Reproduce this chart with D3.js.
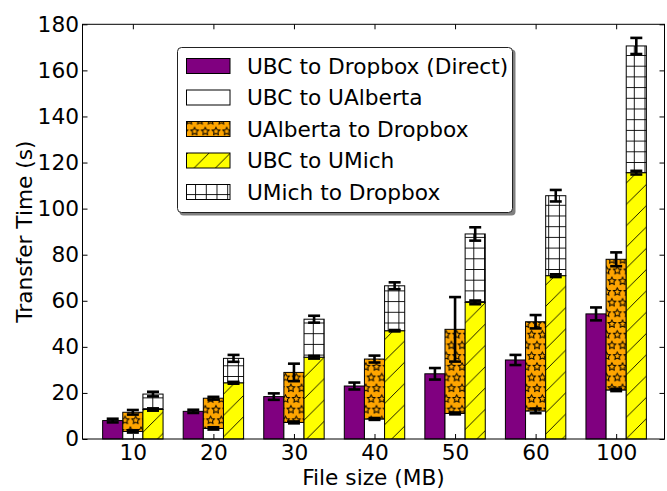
<!DOCTYPE html>
<html>
<head>
<meta charset="utf-8">
<script src="https://cdn.jsdelivr.net/npm/d3@7"></script>
<style>
  html, body { margin: 0; padding: 0; background: #fff; }
  svg { display: block; font-family: "DejaVu Sans", sans-serif; }
</style>
</head>
<body>
<svg id="chart" width="667" height="491"></svg>
<script>
// ---- data ----
const categories = ["10", "20", "30", "40", "50", "60", "100"];
const direct = [8.0, 12.0, 18.4, 23.0, 28.3, 34.3, 54.3];
const directErr = [0.8, 0.7, 1.4, 1.5, 2.5, 2.2, 2.8];
const ubcToUAlberta = [3.3, 4.6, 7.2, 8.7, 11.1, 12.2, 21.3];
const ubcToUAlbertaErr = [0.5, 0.5, 0.4, 0.4, 0.4, 1.0, 0.5];
const uAlbertaToDropbox = [8.3, 13.1, 21.7, 26.0, 36.5, 38.7, 56.7];
const uAlbertaToDropboxErr = [1.0, 0.6, 3.8, 1.5, 14.0, 2.9, 3.0];
const ubcToUMich = [12.8, 24.4, 35.5, 47.0, 59.3, 70.9, 115.6];
const ubcToUMichErr = [0.5, 0.4, 0.6, 0.3, 0.8, 0.6, 0.8];
const uMichToDropbox = [6.7, 10.6, 16.5, 19.5, 29.7, 34.7, 55.0];
const uMichToDropboxErr = [1.0, 1.5, 1.5, 1.5, 2.9, 2.5, 3.5];
const yTicks = [0, 20, 40, 60, 80, 100, 120, 140, 160, 180];
const legendLabels = ["UBC to Dropbox (Direct)", "UBC to UAlberta", "UAlberta to Dropbox", "UBC to UMich", "UMich to Dropbox"];

// ---- layout ----
const svg = d3.select("#chart");
const pLeft = 82.5, pRight = 664.5, pTop = 24.3, pBottom = 439;
const barW = 0.25;
const x = d3.scaleLinear().domain([-0.625, 6.6]).range([pLeft, pRight]);
const y = d3.scaleLinear().domain([0, 180]).range([pBottom, pTop]);
const FS = 21.7;

// ---- patterns ----
const defs = svg.append("defs");
const hd = 10.7;
const starPts = (() => {
  const r = 4.0, ri = 2.0, pts = [];
  for (let i = 0; i < 10; i++) {
    const a = -Math.PI / 2 + i * Math.PI / 5;
    const rr = i % 2 === 0 ? r : ri;
    pts.push([rr * Math.cos(a), rr * Math.sin(a)]);
  }
  return pts;
})();
const starPath = (cx, cy) => "M" + starPts.map(p => (cx + p[0]).toFixed(2) + "," + (cy + p[1]).toFixed(2)).join("L") + "Z";
const pStar = defs.append("pattern").attr("id", "stars").attr("patternUnits", "userSpaceOnUse")
  .attr("width", hd).attr("height", 2 * hd).attr("x", 2).attr("y", 3);
pStar.append("rect").attr("width", hd).attr("height", 2 * hd).attr("fill", "#FFA500");
pStar.append("path")
  .attr("d", [[0,0],[hd,0],[0,2*hd],[hd,2*hd],[hd/2,hd]].map(p => starPath(p[0], p[1])).join(""))
  .attr("fill", "none").attr("stroke", "#000").attr("stroke-width", 1);
const hs = 21.3;
const pDiag = defs.append("pattern").attr("id", "diag").attr("patternUnits", "userSpaceOnUse")
  .attr("width", hs).attr("height", hs).attr("x", 0).attr("y", 0);
pDiag.append("rect").attr("width", hs).attr("height", hs).attr("fill", "#FFFF00");
pDiag.append("path")
  .attr("d", `M0,${hs}L${hs},0M${-hs/4},${hs/4}L${hs/4},${-hs/4}M${3*hs/4},${5*hs/4}L${5*hs/4},${3*hs/4}`)
  .attr("stroke", "#000").attr("stroke-width", 0.9);
const pGrid = defs.append("pattern").attr("id", "grid").attr("patternUnits", "userSpaceOnUse")
  .attr("width", hd).attr("height", hd).attr("x", 2.5).attr("y", 1.5);
pGrid.append("rect").attr("width", hd).attr("height", hd).attr("fill", "#fff");
pGrid.append("path").attr("d", `M0,0.5H${hd}M0.5,0V${hd}`)
  .attr("stroke", "#000").attr("stroke-width", 0.9);

// ---- series definitions ----
const series = [
  { name: legendLabels[0], vals: direct, err: directErr, base: direct.map(() => 0), off: -1, fill: "#800080" },
  { name: legendLabels[1], vals: ubcToUAlberta, err: ubcToUAlbertaErr, base: ubcToUAlberta.map(() => 0), off: 0, fill: "#ffffff" },
  { name: legendLabels[2], vals: uAlbertaToDropbox, err: uAlbertaToDropboxErr, base: ubcToUAlberta, off: 0, fill: "url(#stars)" },
  { name: legendLabels[3], vals: ubcToUMich, err: ubcToUMichErr, base: ubcToUMich.map(() => 0), off: 1, fill: "url(#diag)" },
  { name: legendLabels[4], vals: uMichToDropbox, err: uMichToDropboxErr, base: ubcToUMich, off: 1, fill: "url(#grid)" }
];

const gBars = svg.append("g");
series.forEach(sr => {
  gBars.selectAll(null).data(sr.vals).enter().append("rect")
    .attr("x", (v, i) => x(i + sr.off * barW - barW / 2))
    .attr("width", x(barW) - x(0))
    .attr("y", (v, i) => y(sr.base[i] + v))
    .attr("height", (v, i) => y(sr.base[i]) - y(sr.base[i] + v))
    .attr("fill", sr.fill)
    .attr("stroke", "#000").attr("stroke-width", 1);
});

// ---- error bars ----
const gErr = svg.append("g").attr("stroke", "#000").attr("stroke-width", 2.6);
series.forEach(sr => {
  sr.vals.forEach((v, i) => {
    const cx = x(i + sr.off * barW);
    const tot = sr.base[i] + v;
    const e = sr.err[i];
    gErr.append("line").attr("x1", cx).attr("x2", cx).attr("y1", y(tot - e)).attr("y2", y(tot + e));
    [tot - e, tot + e].forEach(t => {
      gErr.append("line").attr("x1", cx - 6).attr("x2", cx + 6).attr("y1", y(t)).attr("y2", y(t));
    });
  });
});

// ---- axes ----
const idx = d3.range(categories.length);
const xb = svg.append("g").attr("transform", `translate(0,${pBottom})`)
  .call(d3.axisBottom(x).tickValues(idx).tickFormat(i => categories[i]).tickSizeInner(-5).tickSizeOuter(0).tickPadding(6));
const xt = svg.append("g").attr("transform", `translate(0,${pTop})`)
  .call(d3.axisTop(x).tickValues(idx).tickFormat("").tickSizeInner(-5).tickSizeOuter(0));
const yl = svg.append("g").attr("transform", `translate(${pLeft},0)`)
  .call(d3.axisLeft(y).tickValues(yTicks).tickSizeInner(-5).tickSizeOuter(0).tickPadding(3.5));
const yr = svg.append("g").attr("transform", `translate(${pRight},0)`)
  .call(d3.axisRight(y).tickValues(yTicks).tickFormat("").tickSizeInner(-5).tickSizeOuter(0));
[xb, xt, yl, yr].forEach(g => {
  g.select(".domain").remove();
  g.selectAll("line").attr("stroke", "#000").attr("stroke-width", 1);
  g.selectAll("text").attr("font-size", FS).attr("font-family", "DejaVu Sans").attr("fill", "#000");
});
svg.append("rect").attr("x", pLeft).attr("y", pTop).attr("width", pRight - pLeft).attr("height", pBottom - pTop)
  .attr("fill", "none").attr("stroke", "#000").attr("stroke-width", 1);

// axis labels
svg.append("text").attr("x", (pLeft + pRight) / 2).attr("y", 485).attr("text-anchor", "middle")
  .attr("font-size", FS).text("File size (MB)");
svg.append("text").attr("transform", `translate(32,${(pTop + pBottom) / 2}) rotate(-90)`).attr("text-anchor", "middle")
  .attr("font-size", FS).text("Transfer Time (s)");

// ---- legend ----
const lg = svg.append("g");
lg.append("rect").attr("x", 179.5).attr("y", 49.5).attr("width", 336).attr("height", 166).attr("rx", 4)
  .attr("fill", "#808080").attr("stroke", "none");
lg.append("rect").attr("x", 177.5).attr("y", 47.5).attr("width", 335).attr("height", 165).attr("rx", 4)
  .attr("fill", "#fff").attr("stroke", "#222").attr("stroke-width", 1);
const rowY = [66, 97.5, 129, 160.5, 192];
series.forEach((sr, k) => {
  lg.append("rect").attr("x", 186.5).attr("y", rowY[k] - 7.5).attr("width", 43.5).attr("height", 15)
    .attr("fill", sr.fill).attr("stroke", "#000").attr("stroke-width", 1);
  lg.append("text").attr("x", 247).attr("y", rowY[k] + 7.5).attr("font-size", FS).text(sr.name);
});
</script>
</body>
</html>
